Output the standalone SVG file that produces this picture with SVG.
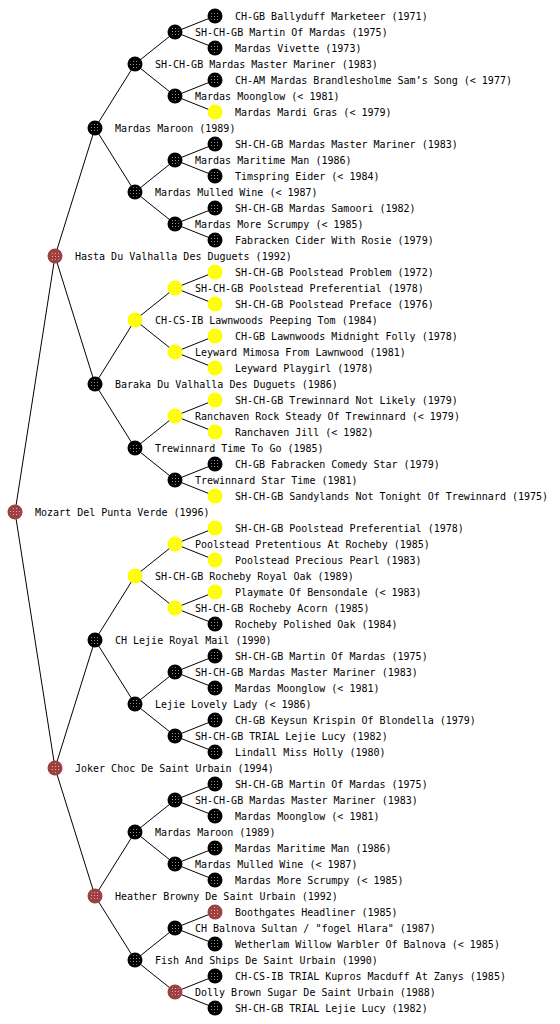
<svg xmlns="http://www.w3.org/2000/svg" width="560" height="1024" viewBox="0 0 560 1024">
<defs>
<pattern id="dp" width="3" height="3" patternUnits="userSpaceOnUse"><rect x="1" y="1" width="1" height="1" fill="#ffffff"/></pattern>
<style>
text{font-family:"DejaVu Sans Mono","Liberation Mono",monospace;font-size:10px;fill:#000}
.bk{fill:#000}
.ye{fill:#ffff00}
.rd{fill:#9c4040}
.dots{fill:url(#dp);opacity:0.6}
#connectors line{stroke:#000;stroke-width:1}
</style>
</defs>
<rect width="560" height="1024" fill="#fff"/>
<g id="connectors">
<line x1="15" y1="512" x2="55" y2="256"/><line x1="15" y1="512" x2="55" y2="768"/>
<line x1="55" y1="256" x2="95" y2="128"/><line x1="55" y1="256" x2="95" y2="384"/>
<line x1="55" y1="768" x2="95" y2="640"/><line x1="55" y1="768" x2="95" y2="896"/>
<line x1="95" y1="128" x2="135" y2="64"/><line x1="95" y1="128" x2="135" y2="192"/>
<line x1="95" y1="384" x2="135" y2="320"/><line x1="95" y1="384" x2="135" y2="448"/>
<line x1="95" y1="640" x2="135" y2="576"/><line x1="95" y1="640" x2="135" y2="704"/>
<line x1="95" y1="896" x2="135" y2="832"/><line x1="95" y1="896" x2="135" y2="960"/>
<line x1="135" y1="64" x2="175" y2="32"/><line x1="135" y1="64" x2="175" y2="96"/>
<line x1="135" y1="192" x2="175" y2="160"/><line x1="135" y1="192" x2="175" y2="224"/>
<line x1="135" y1="320" x2="175" y2="288"/><line x1="135" y1="320" x2="175" y2="352"/>
<line x1="135" y1="448" x2="175" y2="416"/><line x1="135" y1="448" x2="175" y2="480"/>
<line x1="135" y1="576" x2="175" y2="544"/><line x1="135" y1="576" x2="175" y2="608"/>
<line x1="135" y1="704" x2="175" y2="672"/><line x1="135" y1="704" x2="175" y2="736"/>
<line x1="135" y1="832" x2="175" y2="800"/><line x1="135" y1="832" x2="175" y2="864"/>
<line x1="135" y1="960" x2="175" y2="928"/><line x1="135" y1="960" x2="175" y2="992"/>
<line x1="175" y1="32" x2="215" y2="16"/><line x1="175" y1="32" x2="215" y2="48"/>
<line x1="175" y1="96" x2="215" y2="80"/><line x1="175" y1="96" x2="215" y2="112"/>
<line x1="175" y1="160" x2="215" y2="144"/><line x1="175" y1="160" x2="215" y2="176"/>
<line x1="175" y1="224" x2="215" y2="208"/><line x1="175" y1="224" x2="215" y2="240"/>
<line x1="175" y1="288" x2="215" y2="272"/><line x1="175" y1="288" x2="215" y2="304"/>
<line x1="175" y1="352" x2="215" y2="336"/><line x1="175" y1="352" x2="215" y2="368"/>
<line x1="175" y1="416" x2="215" y2="400"/><line x1="175" y1="416" x2="215" y2="432"/>
<line x1="175" y1="480" x2="215" y2="464"/><line x1="175" y1="480" x2="215" y2="496"/>
<line x1="175" y1="544" x2="215" y2="528"/><line x1="175" y1="544" x2="215" y2="560"/>
<line x1="175" y1="608" x2="215" y2="592"/><line x1="175" y1="608" x2="215" y2="624"/>
<line x1="175" y1="672" x2="215" y2="656"/><line x1="175" y1="672" x2="215" y2="688"/>
<line x1="175" y1="736" x2="215" y2="720"/><line x1="175" y1="736" x2="215" y2="752"/>
<line x1="175" y1="800" x2="215" y2="784"/><line x1="175" y1="800" x2="215" y2="816"/>
<line x1="175" y1="864" x2="215" y2="848"/><line x1="175" y1="864" x2="215" y2="880"/>
<line x1="175" y1="928" x2="215" y2="912"/><line x1="175" y1="928" x2="215" y2="944"/>
<line x1="175" y1="992" x2="215" y2="976"/><line x1="175" y1="992" x2="215" y2="1008"/>
</g>
<g id="n0"><circle class="rd" cx="15" cy="512" r="7.5"/><circle class="dots" cx="15" cy="512" r="5"/><text x="35" y="516">Mozart Del Punta Verde (1996)</text></g>
<g id="n1"><circle class="rd" cx="55" cy="256" r="7.5"/><circle class="dots" cx="55" cy="256" r="5"/><text x="75" y="260">Hasta Du Valhalla Des Duguets (1992)</text></g>
<g id="n2"><circle class="rd" cx="55" cy="768" r="7.5"/><circle class="dots" cx="55" cy="768" r="5"/><text x="75" y="772">Joker Choc De Saint Urbain (1994)</text></g>
<g id="n3"><circle class="bk" cx="95" cy="128" r="7.5"/><circle class="dots" cx="95" cy="128" r="5"/><text x="115" y="132">Mardas Maroon (1989)</text></g>
<g id="n4"><circle class="bk" cx="95" cy="384" r="7.5"/><circle class="dots" cx="95" cy="384" r="5"/><text x="115" y="388">Baraka Du Valhalla Des Duguets (1986)</text></g>
<g id="n5"><circle class="bk" cx="95" cy="640" r="7.5"/><circle class="dots" cx="95" cy="640" r="5"/><text x="115" y="644">CH Lejie Royal Mail (1990)</text></g>
<g id="n6"><circle class="rd" cx="95" cy="896" r="7.5"/><circle class="dots" cx="95" cy="896" r="5"/><text x="115" y="900">Heather Browny De Saint Urbain (1992)</text></g>
<g id="n7"><circle class="bk" cx="135" cy="64" r="7.5"/><circle class="dots" cx="135" cy="64" r="5"/><text x="155" y="68">SH-CH-GB Mardas Master Mariner (1983)</text></g>
<g id="n8"><circle class="bk" cx="135" cy="192" r="7.5"/><circle class="dots" cx="135" cy="192" r="5"/><text x="155" y="196">Mardas Mulled Wine (&lt; 1987)</text></g>
<g id="n9"><circle class="ye" cx="135" cy="320" r="7.5"/><circle class="dots" cx="135" cy="320" r="5"/><text x="155" y="324">CH-CS-IB Lawnwoods Peeping Tom (1984)</text></g>
<g id="n10"><circle class="bk" cx="135" cy="448" r="7.5"/><circle class="dots" cx="135" cy="448" r="5"/><text x="155" y="452">Trewinnard Time To Go (1985)</text></g>
<g id="n11"><circle class="ye" cx="135" cy="576" r="7.5"/><circle class="dots" cx="135" cy="576" r="5"/><text x="155" y="580">SH-CH-GB Rocheby Royal Oak (1989)</text></g>
<g id="n12"><circle class="bk" cx="135" cy="704" r="7.5"/><circle class="dots" cx="135" cy="704" r="5"/><text x="155" y="708">Lejie Lovely Lady (&lt; 1986)</text></g>
<g id="n13"><circle class="bk" cx="135" cy="832" r="7.5"/><circle class="dots" cx="135" cy="832" r="5"/><text x="155" y="836">Mardas Maroon (1989)</text></g>
<g id="n14"><circle class="bk" cx="135" cy="960" r="7.5"/><circle class="dots" cx="135" cy="960" r="5"/><text x="155" y="964">Fish And Ships De Saint Urbain (1990)</text></g>
<g id="n15"><circle class="bk" cx="175" cy="32" r="7.5"/><circle class="dots" cx="175" cy="32" r="5"/><text x="195" y="36">SH-CH-GB Martin Of Mardas (1975)</text></g>
<g id="n16"><circle class="bk" cx="175" cy="96" r="7.5"/><circle class="dots" cx="175" cy="96" r="5"/><text x="195" y="100">Mardas Moonglow (&lt; 1981)</text></g>
<g id="n17"><circle class="bk" cx="175" cy="160" r="7.5"/><circle class="dots" cx="175" cy="160" r="5"/><text x="195" y="164">Mardas Maritime Man (1986)</text></g>
<g id="n18"><circle class="bk" cx="175" cy="224" r="7.5"/><circle class="dots" cx="175" cy="224" r="5"/><text x="195" y="228">Mardas More Scrumpy (&lt; 1985)</text></g>
<g id="n19"><circle class="ye" cx="175" cy="288" r="7.5"/><circle class="dots" cx="175" cy="288" r="5"/><text x="195" y="292">SH-CH-GB Poolstead Preferential (1978)</text></g>
<g id="n20"><circle class="ye" cx="175" cy="352" r="7.5"/><circle class="dots" cx="175" cy="352" r="5"/><text x="195" y="356">Leyward Mimosa From Lawnwood (1981)</text></g>
<g id="n21"><circle class="ye" cx="175" cy="416" r="7.5"/><circle class="dots" cx="175" cy="416" r="5"/><text x="195" y="420">Ranchaven Rock Steady Of Trewinnard (&lt; 1979)</text></g>
<g id="n22"><circle class="bk" cx="175" cy="480" r="7.5"/><circle class="dots" cx="175" cy="480" r="5"/><text x="195" y="484">Trewinnard Star Time (1981)</text></g>
<g id="n23"><circle class="ye" cx="175" cy="544" r="7.5"/><circle class="dots" cx="175" cy="544" r="5"/><text x="195" y="548">Poolstead Pretentious At Rocheby (1985)</text></g>
<g id="n24"><circle class="ye" cx="175" cy="608" r="7.5"/><circle class="dots" cx="175" cy="608" r="5"/><text x="195" y="612">SH-CH-GB Rocheby Acorn (1985)</text></g>
<g id="n25"><circle class="bk" cx="175" cy="672" r="7.5"/><circle class="dots" cx="175" cy="672" r="5"/><text x="195" y="676">SH-CH-GB Mardas Master Mariner (1983)</text></g>
<g id="n26"><circle class="bk" cx="175" cy="736" r="7.5"/><circle class="dots" cx="175" cy="736" r="5"/><text x="195" y="740">SH-CH-GB TRIAL Lejie Lucy (1982)</text></g>
<g id="n27"><circle class="bk" cx="175" cy="800" r="7.5"/><circle class="dots" cx="175" cy="800" r="5"/><text x="195" y="804">SH-CH-GB Mardas Master Mariner (1983)</text></g>
<g id="n28"><circle class="bk" cx="175" cy="864" r="7.5"/><circle class="dots" cx="175" cy="864" r="5"/><text x="195" y="868">Mardas Mulled Wine (&lt; 1987)</text></g>
<g id="n29"><circle class="bk" cx="175" cy="928" r="7.5"/><circle class="dots" cx="175" cy="928" r="5"/><text x="195" y="932">CH Balnova Sultan / "fogel Hlara" (1987)</text></g>
<g id="n30"><circle class="rd" cx="175" cy="992" r="7.5"/><circle class="dots" cx="175" cy="992" r="5"/><text x="195" y="996">Dolly Brown Sugar De Saint Urbain (1988)</text></g>
<g id="n31"><circle class="bk" cx="215" cy="16" r="7.5"/><circle class="dots" cx="215" cy="16" r="5"/><text x="235" y="20">CH-GB Ballyduff Marketeer (1971)</text></g>
<g id="n32"><circle class="bk" cx="215" cy="48" r="7.5"/><circle class="dots" cx="215" cy="48" r="5"/><text x="235" y="52">Mardas Vivette (1973)</text></g>
<g id="n33"><circle class="bk" cx="215" cy="80" r="7.5"/><circle class="dots" cx="215" cy="80" r="5"/><text x="235" y="84">CH-AM Mardas Brandlesholme Sam’s Song (&lt; 1977)</text></g>
<g id="n34"><circle class="ye" cx="215" cy="112" r="7.5"/><circle class="dots" cx="215" cy="112" r="5"/><text x="235" y="116">Mardas Mardi Gras (&lt; 1979)</text></g>
<g id="n35"><circle class="bk" cx="215" cy="144" r="7.5"/><circle class="dots" cx="215" cy="144" r="5"/><text x="235" y="148">SH-CH-GB Mardas Master Mariner (1983)</text></g>
<g id="n36"><circle class="bk" cx="215" cy="176" r="7.5"/><circle class="dots" cx="215" cy="176" r="5"/><text x="235" y="180">Timspring Eider (&lt; 1984)</text></g>
<g id="n37"><circle class="bk" cx="215" cy="208" r="7.5"/><circle class="dots" cx="215" cy="208" r="5"/><text x="235" y="212">SH-CH-GB Mardas Samoori (1982)</text></g>
<g id="n38"><circle class="bk" cx="215" cy="240" r="7.5"/><circle class="dots" cx="215" cy="240" r="5"/><text x="235" y="244">Fabracken Cider With Rosie (1979)</text></g>
<g id="n39"><circle class="ye" cx="215" cy="272" r="7.5"/><circle class="dots" cx="215" cy="272" r="5"/><text x="235" y="276">SH-CH-GB Poolstead Problem (1972)</text></g>
<g id="n40"><circle class="ye" cx="215" cy="304" r="7.5"/><circle class="dots" cx="215" cy="304" r="5"/><text x="235" y="308">SH-CH-GB Poolstead Preface (1976)</text></g>
<g id="n41"><circle class="ye" cx="215" cy="336" r="7.5"/><circle class="dots" cx="215" cy="336" r="5"/><text x="235" y="340">CH-GB Lawnwoods Midnight Folly (1978)</text></g>
<g id="n42"><circle class="ye" cx="215" cy="368" r="7.5"/><circle class="dots" cx="215" cy="368" r="5"/><text x="235" y="372">Leyward Playgirl (1978)</text></g>
<g id="n43"><circle class="ye" cx="215" cy="400" r="7.5"/><circle class="dots" cx="215" cy="400" r="5"/><text x="235" y="404">SH-CH-GB Trewinnard Not Likely (1979)</text></g>
<g id="n44"><circle class="ye" cx="215" cy="432" r="7.5"/><circle class="dots" cx="215" cy="432" r="5"/><text x="235" y="436">Ranchaven Jill (&lt; 1982)</text></g>
<g id="n45"><circle class="bk" cx="215" cy="464" r="7.5"/><circle class="dots" cx="215" cy="464" r="5"/><text x="235" y="468">CH-GB Fabracken Comedy Star (1979)</text></g>
<g id="n46"><circle class="ye" cx="215" cy="496" r="7.5"/><circle class="dots" cx="215" cy="496" r="5"/><text x="235" y="500">SH-CH-GB Sandylands Not Tonight Of Trewinnard (1975)</text></g>
<g id="n47"><circle class="ye" cx="215" cy="528" r="7.5"/><circle class="dots" cx="215" cy="528" r="5"/><text x="235" y="532">SH-CH-GB Poolstead Preferential (1978)</text></g>
<g id="n48"><circle class="ye" cx="215" cy="560" r="7.5"/><circle class="dots" cx="215" cy="560" r="5"/><text x="235" y="564">Poolstead Precious Pearl (1983)</text></g>
<g id="n49"><circle class="ye" cx="215" cy="592" r="7.5"/><circle class="dots" cx="215" cy="592" r="5"/><text x="235" y="596">Playmate Of Bensondale (&lt; 1983)</text></g>
<g id="n50"><circle class="bk" cx="215" cy="624" r="7.5"/><circle class="dots" cx="215" cy="624" r="5"/><text x="235" y="628">Rocheby Polished Oak (1984)</text></g>
<g id="n51"><circle class="bk" cx="215" cy="656" r="7.5"/><circle class="dots" cx="215" cy="656" r="5"/><text x="235" y="660">SH-CH-GB Martin Of Mardas (1975)</text></g>
<g id="n52"><circle class="bk" cx="215" cy="688" r="7.5"/><circle class="dots" cx="215" cy="688" r="5"/><text x="235" y="692">Mardas Moonglow (&lt; 1981)</text></g>
<g id="n53"><circle class="bk" cx="215" cy="720" r="7.5"/><circle class="dots" cx="215" cy="720" r="5"/><text x="235" y="724">CH-GB Keysun Krispin Of Blondella (1979)</text></g>
<g id="n54"><circle class="bk" cx="215" cy="752" r="7.5"/><circle class="dots" cx="215" cy="752" r="5"/><text x="235" y="756">Lindall Miss Holly (1980)</text></g>
<g id="n55"><circle class="bk" cx="215" cy="784" r="7.5"/><circle class="dots" cx="215" cy="784" r="5"/><text x="235" y="788">SH-CH-GB Martin Of Mardas (1975)</text></g>
<g id="n56"><circle class="bk" cx="215" cy="816" r="7.5"/><circle class="dots" cx="215" cy="816" r="5"/><text x="235" y="820">Mardas Moonglow (&lt; 1981)</text></g>
<g id="n57"><circle class="bk" cx="215" cy="848" r="7.5"/><circle class="dots" cx="215" cy="848" r="5"/><text x="235" y="852">Mardas Maritime Man (1986)</text></g>
<g id="n58"><circle class="bk" cx="215" cy="880" r="7.5"/><circle class="dots" cx="215" cy="880" r="5"/><text x="235" y="884">Mardas More Scrumpy (&lt; 1985)</text></g>
<g id="n59"><circle class="rd" cx="215" cy="912" r="7.5"/><circle class="dots" cx="215" cy="912" r="5"/><text x="235" y="916">Boothgates Headliner (1985)</text></g>
<g id="n60"><circle class="bk" cx="215" cy="944" r="7.5"/><circle class="dots" cx="215" cy="944" r="5"/><text x="235" y="948">Wetherlam Willow Warbler Of Balnova (&lt; 1985)</text></g>
<g id="n61"><circle class="bk" cx="215" cy="976" r="7.5"/><circle class="dots" cx="215" cy="976" r="5"/><text x="235" y="980">CH-CS-IB TRIAL Kupros Macduff At Zanys (1985)</text></g>
<g id="n62"><circle class="bk" cx="215" cy="1008" r="7.5"/><circle class="dots" cx="215" cy="1008" r="5"/><text x="235" y="1012">SH-CH-GB TRIAL Lejie Lucy (1982)</text></g>
</svg>
